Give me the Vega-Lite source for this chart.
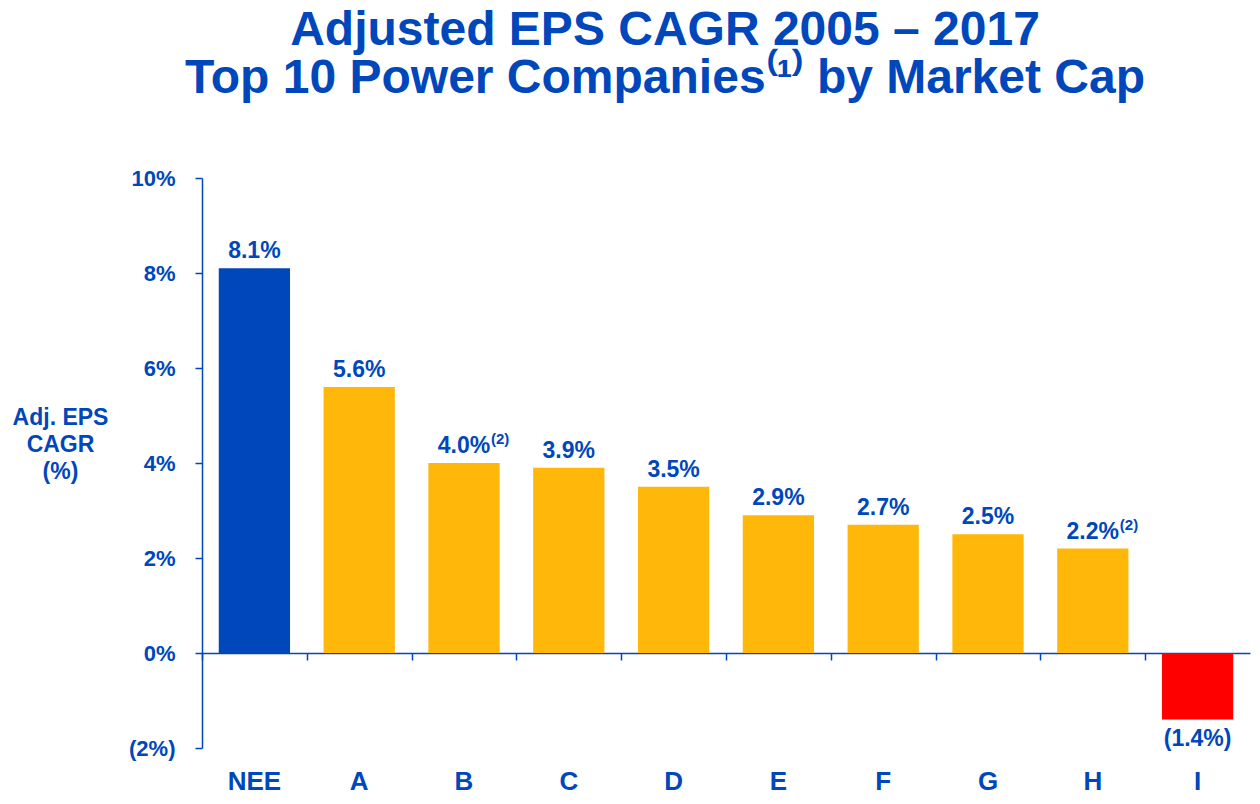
{
  "$schema": "https://vega.github.io/schema/vega-lite/v6.json",
  "width": 1048,
  "height": 570,
  "autosize": "none",
  "padding": {"left": 202, "top": 178, "right": 10, "bottom": 56},
  "background": "white",
  "config": {
    "view": {"stroke": null},
    "font": "Liberation Sans"
  },
  "title": {
    "text": "Adjusted EPS CAGR 2005 – 2017",
    "subtitle": "Top 10 Power Companies⁽¹⁾ by Market Cap",
    "anchor": "middle",
    "frame": "group",
    "dx": -61,
    "offset": 64,
    "font": "Liberation Sans",
    "fontSize": 48,
    "fontWeight": "bold",
    "color": "#0047BB",
    "subtitleFont": "Liberation Sans",
    "subtitleFontSize": 48,
    "subtitleFontWeight": "bold",
    "subtitleColor": "#0047BB",
    "subtitlePadding": 0
  },
  "data": {
    "values": [
      {"company": "NEE", "value": 8.1, "label": "8.1%", "note": ""},
      {"company": "A", "value": 5.6, "label": "5.6%", "note": ""},
      {"company": "B", "value": 4.0, "label": "4.0%", "note": "(2)"},
      {"company": "C", "value": 3.9, "label": "3.9%", "note": ""},
      {"company": "D", "value": 3.5, "label": "3.5%", "note": ""},
      {"company": "E", "value": 2.9, "label": "2.9%", "note": ""},
      {"company": "F", "value": 2.7, "label": "2.7%", "note": ""},
      {"company": "G", "value": 2.5, "label": "2.5%", "note": ""},
      {"company": "H", "value": 2.2, "label": "2.2%", "note": "(2)"},
      {"company": "I", "value": -1.4, "label": "(1.4%)", "note": ""}
    ]
  },
  "resolve": {"axis": {"x": "independent", "y": "independent"}},
  "layer": [
    {
      "mark": {"type": "bar"},
      "encoding": {
        "x": {
          "field": "company", "type": "nominal", "sort": null,
          "scale": {"paddingInner": 0.32, "paddingOuter": 0.16},
          "axis": {
            "title": null, "orient": "bottom", "domain": false, "ticks": false,
            "labelAngle": 0, "labelFontSize": 26, "labelFontWeight": "bold",
            "labelColor": "#0047BB", "labelPadding": 20, "labelFont": "Liberation Sans"
          }
        },
        "y": {
          "field": "value", "type": "quantitative",
          "scale": {"domain": [-2, 10], "nice": false},
          "axis": {
            "values": [-2, 0, 2, 4, 6, 8, 10],
            "labelExpr": "datum.value < 0 ? '(' + abs(datum.value) + '%)' : datum.value + '%'",
            "grid": false,
            "domainColor": "#0047BB", "domainWidth": 1.5,
            "tickColor": "#0047BB", "tickSize": 7, "tickWidth": 1.5,
            "labelFontSize": 22, "labelFontWeight": "bold", "labelColor": "#0047BB",
            "labelPadding": 20, "labelFont": "Liberation Sans",
            "title": ["Adj. EPS", "CAGR", "(%)"],
            "titleAngle": 0, "titleAlign": "center", "titleBaseline": "top",
            "titleX": -142, "titleY": 228,
            "titleFontSize": 23, "titleFontWeight": "bold", "titleColor": "#0047BB",
            "titleLineHeight": 27, "titleFont": "Liberation Sans"
          }
        },
        "color": {
          "field": "company", "type": "nominal",
          "scale": {
            "domain": ["NEE", "A", "B", "C", "D", "E", "F", "G", "H", "I"],
            "range": ["#0047BB", "#FFB80A", "#FFB80A", "#FFB80A", "#FFB80A", "#FFB80A", "#FFB80A", "#FFB80A", "#FFB80A", "#FF0000"]
          },
          "legend": null
        }
      }
    },
    {
      "transform": [{"filter": "datum.value >= 0"}],
      "mark": {"type": "text", "baseline": "bottom", "dy": -5, "fontSize": 23, "fontWeight": "bold", "color": "#0047BB", "font": "Liberation Sans"},
      "encoding": {
        "x": {
          "field": "company", "type": "nominal", "sort": null,
          "axis": {
            "title": null, "orient": "bottom", "offset": -95, "labels": false,
            "domainColor": "#0047BB", "domainWidth": 1.5,
            "tickColor": "#0047BB", "tickWidth": 1.5, "tickSize": 7,
            "tickOffset": -52.4
          }
        },
        "y": {"field": "value", "type": "quantitative", "axis": null},
        "text": {"field": "label"}
      }
    },
    {
      "transform": [{"filter": "datum.value >= 0"}],
      "mark": {"type": "text", "baseline": "bottom", "align": "left", "dx": 27, "dy": -16, "fontSize": 15, "fontWeight": "bold", "color": "#0047BB", "font": "Liberation Sans"},
      "encoding": {
        "x": {"field": "company", "type": "nominal", "sort": null, "axis": null},
        "y": {"field": "value", "type": "quantitative", "axis": null},
        "text": {"field": "note"}
      }
    },
    {
      "transform": [{"filter": "datum.value < 0"}],
      "mark": {"type": "text", "baseline": "top", "dy": 8, "fontSize": 23, "fontWeight": "bold", "color": "#0047BB", "font": "Liberation Sans"},
      "encoding": {
        "x": {"field": "company", "type": "nominal", "sort": null, "axis": null},
        "y": {"field": "value", "type": "quantitative", "axis": null},
        "text": {"field": "label"}
      }
    }
  ]
}
